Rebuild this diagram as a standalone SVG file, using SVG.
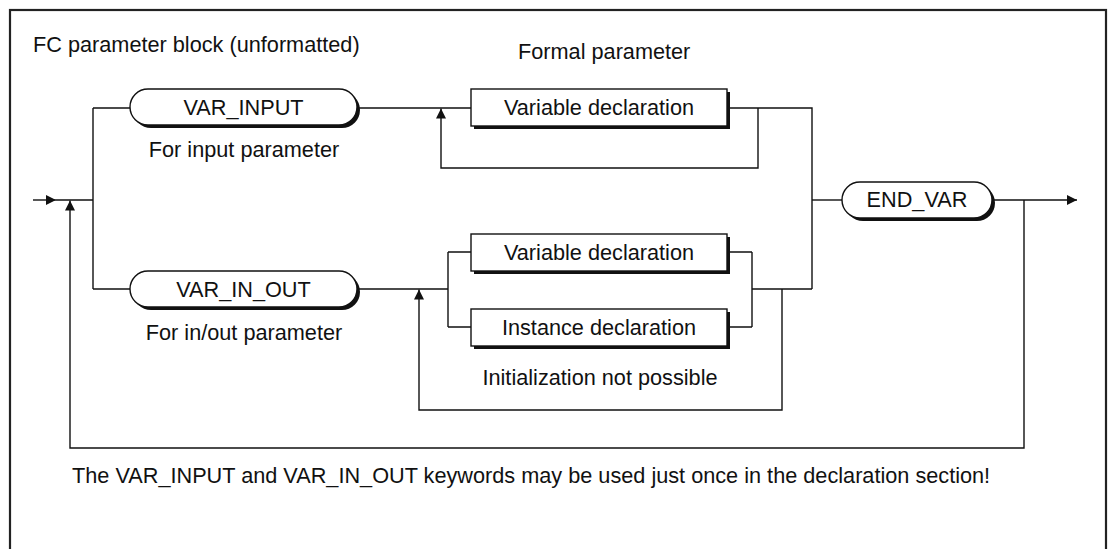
<svg xmlns="http://www.w3.org/2000/svg" width="1111" height="549" viewBox="0 0 1111 549">
<style>
text{font-family:"Liberation Sans",Arial,sans-serif;font-size:21.7px;fill:#111}
.c{text-anchor:middle}
.ln{fill:none;stroke:#111;stroke-width:1.4}
.sh{fill:#111;stroke:none}
.bx{fill:#fff;stroke:#111;stroke-width:1.4}
</style>
<defs>
<marker id="ah" viewBox="0 0 10 10" refX="10" refY="5" markerWidth="10" markerHeight="10" markerUnits="userSpaceOnUse" orient="auto">
<path d="M0,0 L10,5 L0,10 Z" fill="#111"/>
</marker>
</defs>
<rect x="10" y="10" width="1096" height="560" fill="#fff" stroke="#222" stroke-width="2.2"/>
<text x="33" y="52">FC parameter block (unformatted)</text>
<text x="518" y="59">Formal parameter</text>
<g id="connectors">
<path class="ln" d="M33,200 H56" marker-end="url(#ah)"/>
<path class="ln" d="M56,200 H93 M93,108 V289 M93,108 H130 M93,289 H130"/>
<path class="ln" d="M357,108 H471 M727,108 H812 V289"/>
<path class="ln" d="M758,108 V168 H441 V108.5" marker-end="url(#ah)"/>
<path class="ln" d="M812,200 H842"/>
<path class="ln" d="M358,289 H448 M448,252 V327 M448,252 H471 M448,327 H471 M727,252 H752 M727,327 H752 M752,252 V327 M752,289 H812"/>
<path class="ln" d="M782,289 V410 H419 V289.5" marker-end="url(#ah)"/>
<path class="ln" d="M992,200 H1077" marker-end="url(#ah)"/>
<path class="ln" d="M1024,200 V448 H70 V200.5" marker-end="url(#ah)"/>
</g>
<g id="var_input">
<rect class="sh" x="133" y="92" width="227" height="36" rx="18"/>
<rect class="bx" x="130" y="89" width="227" height="36" rx="18"/>
<text class="c" x="243.5" y="115">VAR_INPUT</text>
<text class="c" x="244" y="157">For input parameter</text>
</g>
<g id="var_decl_1">
<rect class="sh" x="474" y="92" width="256" height="37"/>
<rect class="bx" x="471" y="89" width="256" height="37"/>
<text class="c" x="599" y="115">Variable declaration</text>
</g>
<g id="var_in_out">
<rect class="sh" x="133" y="274" width="227" height="36" rx="18"/>
<rect class="bx" x="130" y="271" width="227" height="36" rx="18"/>
<text class="c" x="243.5" y="297">VAR_IN_OUT</text>
<text class="c" x="244" y="340">For in/out parameter</text>
</g>
<g id="var_decl_2">
<rect class="sh" x="474" y="237" width="256" height="37"/>
<rect class="bx" x="471" y="234" width="256" height="37"/>
<text class="c" x="599" y="260">Variable declaration</text>
</g>
<g id="inst_decl">
<rect class="sh" x="474" y="312" width="256" height="37"/>
<rect class="bx" x="471" y="309" width="256" height="37"/>
<text class="c" x="599" y="335">Instance declaration</text>
<text class="c" x="600" y="385">Initialization not possible</text>
</g>
<g id="end_var">
<rect class="sh" x="845" y="185" width="150" height="36" rx="18"/>
<rect class="bx" x="842" y="182" width="150" height="36" rx="18"/>
<text class="c" x="917" y="207">END_VAR</text>
</g>
<text x="72" y="483">The VAR_INPUT and VAR_IN_OUT keywords may be used just once in the declaration section!</text>
</svg>
